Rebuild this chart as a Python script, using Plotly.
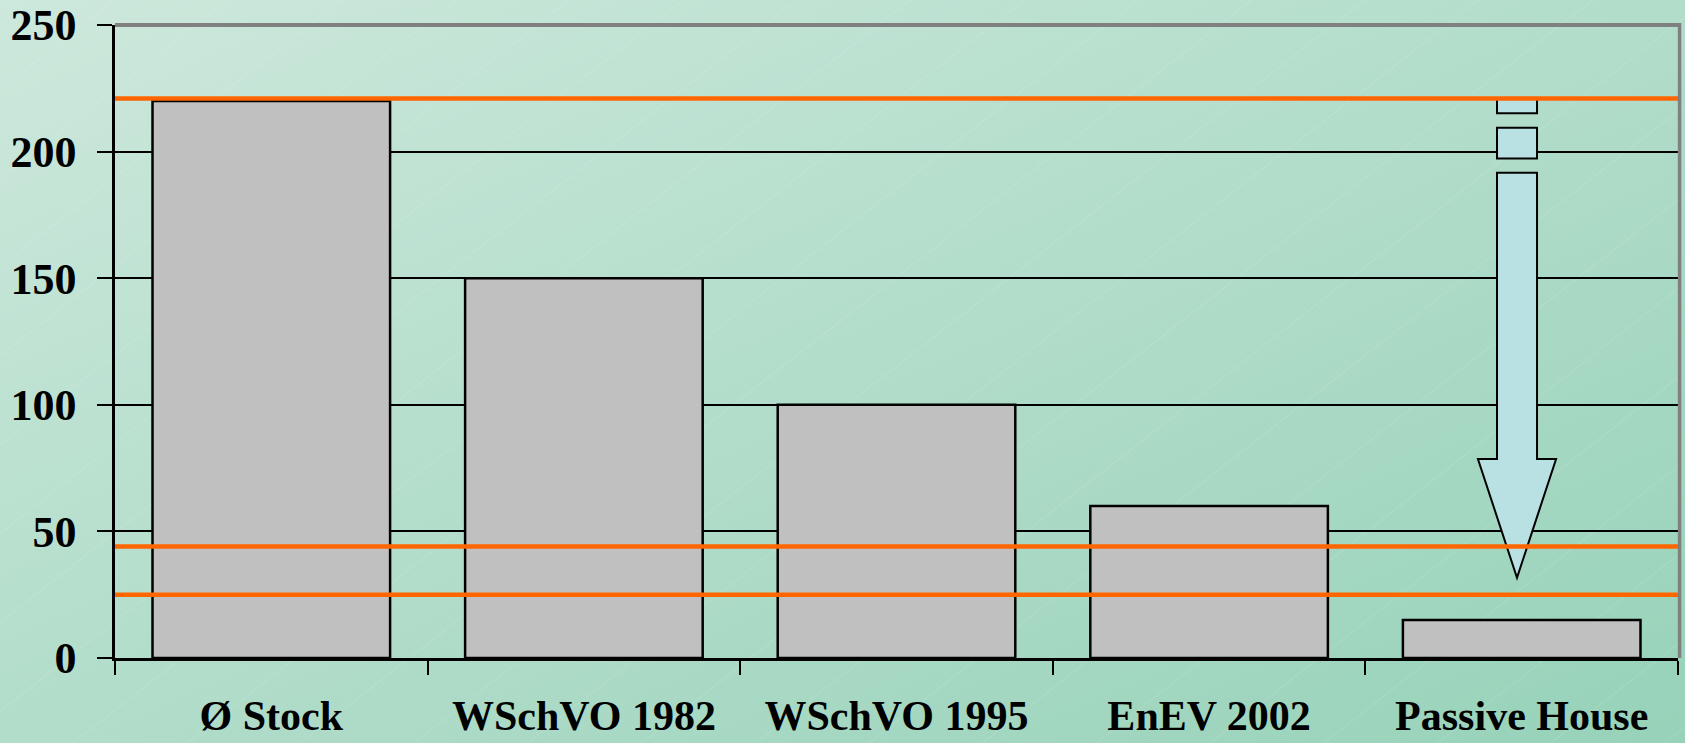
import base64
import plotly.graph_objects as go

# Heating energy demand by building standard
categories = ["Ø Stock", "WSchVO 1982", "WSchVO 1995", "EnEV 2002", "Passive House"]
demand = [220, 150, 100, 60, 15]

# Horizontal reference levels
reference_levels = [221, 44, 25]

# Y-axis ticks
y_ticks = [0, 50, 100, 150, 200, 250]

W, H = 1685, 743
M_L, M_R, M_T, M_B = 115, 7, 25, 85
PW, PH = W - M_L - M_R, H - M_T - M_B

FONT = "Liberation Serif"

# Background: diagonal green gradient with faint diagonal hairlines
bg_svg = f"""<svg xmlns='http://www.w3.org/2000/svg' width='{W}' height='{H}' viewBox='0 0 {W} {H}' preserveAspectRatio='none'>
<defs>
<linearGradient id='g' x1='0' y1='0' x2='1' y2='1'>
<stop offset='0' stop-color='#cde8dc'/>
<stop offset='1' stop-color='#97d2b9'/>
</linearGradient>
<pattern id='p' width='70' height='70' patternUnits='userSpaceOnUse' patternTransform='rotate(-38)'>
<line x1='0' y1='0' x2='70' y2='0' stroke='white' stroke-width='1' stroke-opacity='0.2'/>
</pattern>
</defs>
<rect width='{W}' height='{H}' fill='url(#g)'/>
<rect width='{W}' height='{H}' fill='url(#p)'/>
</svg>"""
bg_uri = "data:image/svg+xml;base64," + base64.b64encode(bg_svg.encode()).decode()

fig = go.Figure()
fig.add_trace(go.Bar(
    x=categories,
    y=demand,
    marker=dict(color="#c0c0c0", line=dict(color="black", width=2.5)),
    hoverinfo="x+y",
))

# Downward arrow above the passive house bar (category index 4)
ARROW_X = 3.985
SHAFT_HALF = 0.064
HEAD_HALF = 0.125
ARROW_DASHES = [(221, 215.1), (209.4, 197.3)]
SHAFT_TOP, SHAFT_BOTTOM, ARROW_TIP = 191.6, 78.6, 31.7
ARROW_FILL = "#b9e0e3"

shapes = []
for top, bottom in ARROW_DASHES:
    shapes.append(dict(
        type="rect", xref="x", yref="y",
        x0=ARROW_X - SHAFT_HALF, x1=ARROW_X + SHAFT_HALF, y0=bottom, y1=top,
        fillcolor=ARROW_FILL, line=dict(color="black", width=2), layer="above",
    ))
xl, xr = ARROW_X - SHAFT_HALF, ARROW_X + SHAFT_HALF
hl, hr = ARROW_X - HEAD_HALF, ARROW_X + HEAD_HALF
arrow_path = (
    f"M {xl} {SHAFT_TOP} L {xr} {SHAFT_TOP} L {xr} {SHAFT_BOTTOM} "
    f"L {hr} {SHAFT_BOTTOM} L {ARROW_X} {ARROW_TIP} L {hl} {SHAFT_BOTTOM} "
    f"L {xl} {SHAFT_BOTTOM} Z"
)
shapes.append(dict(
    type="path", xref="x", yref="y", path=arrow_path,
    fillcolor=ARROW_FILL, line=dict(color="black", width=2), layer="above",
))

# Orange reference lines
for lvl in reference_levels:
    shapes.append(dict(
        type="line", xref="paper", yref="y", x0=0, x1=1.001, y0=lvl, y1=lvl,
        line=dict(color="#ff6600", width=4.5), layer="above",
    ))

# Grey frame on top and right of the plot area
shapes.append(dict(type="line", xref="paper", yref="paper", x0=0, x1=1.001, y0=1.0, y1=1.0,
                   line=dict(color="#808080", width=4), layer="above"))
shapes.append(dict(type="line", xref="paper", yref="paper", x0=1.001, x1=1.001, y0=0, y1=1.003,
                   line=dict(color="#808080", width=3.5), layer="above"))

fig.update_layout(
    width=W, height=H,
    margin=dict(l=M_L, r=M_R, t=M_T, b=M_B, pad=0, autoexpand=False),
    paper_bgcolor="#b5dfcc",
    plot_bgcolor="white",
    showlegend=False,
    bargap=0.24,
    shapes=shapes,
    images=[dict(
        source=bg_uri, xref="paper", yref="paper",
        x=-M_L / PW, y=1 + M_T / PH, sizex=W / PW, sizey=H / PH,
        xanchor="left", yanchor="top", sizing="stretch", layer="below",
    )],
    xaxis=dict(
        type="category",
        automargin=False,
        tickson="boundaries",
        ticks="outside", ticklen=14, tickwidth=2, tickcolor="black",
        showline=True, linecolor="black", linewidth=3,
        showgrid=False,
        tickfont=dict(family=FONT, size=42, color="black", weight="bold"),
        ticklabelstandoff=19,
    ),
    yaxis=dict(
        automargin=False,
        range=[0, 250],
        tickvals=y_ticks,
        ticks="outside", ticklen=15, tickwidth=2, tickcolor="black",
        showline=True, linecolor="black", linewidth=2.5,
        showgrid=True, gridcolor="black", gridwidth=2,
        zeroline=False,
        tickfont=dict(family=FONT, size=44, color="black", weight="bold"),
        ticklabelstandoff=12,
    ),
)

fig.write_html("out.html")
